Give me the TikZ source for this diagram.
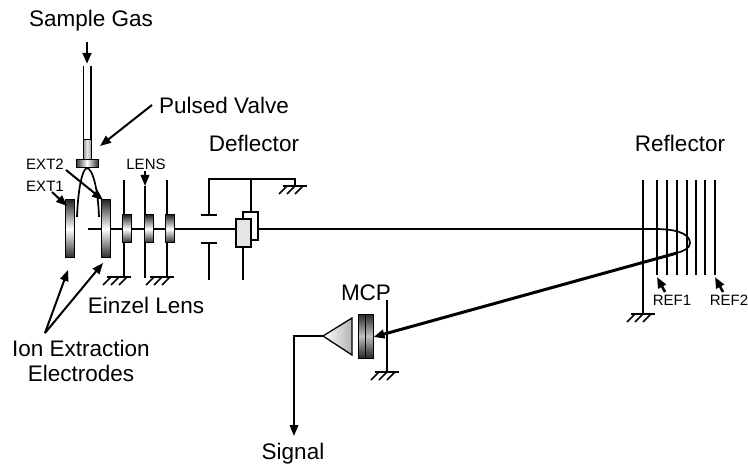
\documentclass[tikz,border=0pt]{standalone}
\usepackage{fontspec}
\setmainfont{Liberation Sans}
\usetikzlibrary{arrows.meta}
\tikzset{>={Triangle[length=11pt,width=8.5pt]}}
\tikzset{
  wire/.style={line width=1.7pt,black},
  thickbeam/.style={line width=3pt,black},
  pointer/.style={->,line width=2pt,black},
  bigtext/.style={font=\fontsize{22.5}{25}\selectfont,inner sep=0pt,align=center},
  smalltext/.style={font=\fontsize{15}{17}\selectfont,inner sep=0pt},
  plate/.style={draw,line width=1pt,rectangle,inner sep=0pt,
    top color=black!85,bottom color=black!85,middle color=white},
  sideplate/.style={draw,line width=1pt,rectangle,inner sep=0pt,
    left color=black!80,right color=black!80,middle color=white},
  gnd/.pic={
    \draw[wire] (-12,0) -- (12,0);
    \foreach \k in {0, 1, 2} {
      \draw[wire] (4-8*\k+4,0) -- (4-8*\k-4,8);
    }
  }
}

\begin{document}
\begin{tikzpicture}[x=1pt,y=-1pt]
      \useasboundingbox (0,0) rectangle (748,468);

      % gas inlet
      \coordinate (gasin) at (87,42);
      \coordinate (gasout) at (87,64);
      \coordinate (tubeLtop) at (83.5,66);
      \coordinate (tubeRtop) at (91,66);
      \coordinate (tubeLbot) at (83.5,140);
      \coordinate (tubeRbot) at (91,140);
      \draw[pointer,line width=2.6pt] (gasin) -- (gasout);
      \draw[wire] (tubeLtop) -- (tubeLbot);
      \draw[wire] (tubeRtop) -- (tubeRbot);

      % beam and wires stay behind the plates
      \coordinate (beamstart) at (88,229);
      \coordinate (beamturn) at (655,229);
      \coordinate (beamtip) at (690,243);
      \coordinate (beamback) at (677,253);
      \coordinate (detector) at (373.5,337);
      \draw[wire] (beamstart) -- (beamturn)
        .. controls (672,229) and (690,232) .. (beamtip)
        .. controls (690,248) and (684,251) .. (beamback);

      \foreach \t/\x in {1/124, 3/167} {
        \coordinate (lenstop\t) at (\x,180);
        \coordinate (lensbot\t) at (\x,277);
        \draw[wire] (lenstop\t) -- (lensbot\t);
        \pic at (lensbot\t) [xshift=-5pt] {gnd};
      }
      \coordinate (lenstop2) at (145,171);
      \coordinate (lensmid2) at (145,186);
      \coordinate (lensbot2) at (145,278);
      \draw[pointer] (lenstop2) -- (lensmid2);
      \draw[wire] (lensmid2) -- (lensbot2);

      % deflector wiring
      \coordinate (defa) at (209,215);
      \coordinate (defb) at (209,179);
      \coordinate (defc) at (295,179);
      \coordinate (defd) at (295,186);
      \coordinate (defe) at (251,179);
      \coordinate (deff) at (251,212);
      \coordinate (defg) at (209,243);
      \coordinate (defh) at (209,280);
      \coordinate (defi) at (243,247);
      \coordinate (defj) at (243,280);
      \draw[wire] (defa) -- (defb) -- (defc) -- (defd);
      \draw[wire] (defe) -- (deff);
      \draw[wire] (defg) -- (defh);
      \draw[wire] (defi) -- (defj);
      \coordinate (platea) at (201,215);
      \coordinate (plateb) at (217,215);
      \coordinate (platec) at (201,243);
      \coordinate (plated) at (217,243);
      \draw[wire] (platea) -- (plateb);
      \draw[wire] (platec) -- (plated);
      \pic at (defd) {gnd};
      \node[draw,line width=1.5pt,fill=white,inner sep=0,minimum width=15pt,minimum height=28pt](deflback) at (250.5,226) {};
      \node[draw,line width=1.5pt,fill=black!10,inner sep=0,minimum width=15pt,minimum height=28pt](deflfront) at (243.5,233) {};

      % gas valve
      \node[sideplate,minimum width=7.5pt,minimum height=20pt,left color=black!40,right color=black!40,middle color=black!8](valve) at (87.25,150) {};
      \node[sideplate,minimum width=22pt,minimum height=8pt](flange) at (87,164) {};
      \coordinate (sprayL) at (77,217);
      \coordinate (sprayR) at (99,217);
      \draw[wire] (sprayL) .. controls (78,190) and (82,169) .. (87,168)
        .. controls (93,169) and (98,190) .. (sprayR);

      % extraction electrodes and einzel lens
      \node[plate,minimum width=9pt,minimum height=58pt](ext1) at (70,229) {};
      \node[plate,minimum width=9pt,minimum height=58pt](ext2) at (106,229) {};
      \foreach \t/\x in {1/127, 2/149, 3/170} {
        \node[plate,minimum width=8.5pt,minimum height=28pt](lens\t) at (\x,229) {};
      }

      % reflector stack
      \foreach \t/\x in {1/657, 2/667, 3/677, 4/687, 5/696, 6/705, 7/715} {
        \coordinate (reftop\t) at (\x,180);
        \coordinate (refbot\t) at (\x,275);
        \draw[wire,line width=2.2pt] (reftop\t) -- (refbot\t);
      }
      \coordinate (refgndtop) at (643,180);
      \coordinate (refgnd) at (643,314);
      \draw[wire] (refgndtop) -- (refgnd);
      \pic at (refgnd) {gnd};

      % detector
      \coordinate (mcptop) at (387,300);
      \coordinate (mcpgnd) at (387,372);
      \draw[wire] (mcptop) -- (mcpgnd);
      \pic at (mcpgnd) {gnd};
      \draw[->,thickbeam] (beamback) -- (detector);
      \node[plate,middle color=black!25,minimum width=7.5pt,minimum height=44pt](mcpa) at (361.75,336) {};
      \node[plate,middle color=black!25,minimum width=7.5pt,minimum height=44pt](mcpb) at (369.25,336) {};
      \coordinate (amptip) at (323,336);
      \coordinate (amptop) at (352,318);
      \coordinate (ampbot) at (352,355);
      \draw[line width=1.3pt,left color=white,right color=black!30] (amptip) -- (amptop) -- (ampbot) -- cycle;
      \coordinate (sigcorner) at (294,336);
      \coordinate (sigend) at (294,436);
      \draw[pointer] (amptip) -- (sigcorner) -- (sigend);

      % labels
      \node[bigtext](gaslabel) at (91,21) {Sample Gas};
      \node[bigtext,anchor=west](valvelabel) at (159,105) {Pulsed Valve};
      \node[bigtext](defllabel) at (254,143) {Deflector};
      \node[bigtext](refllabel) at (680,143) {Reflector};
      \node[bigtext](einzellabel) at (146,305) {Einzel Lens};
      \node[bigtext](ionlabel) at (81,361) {Ion Extraction\\Electrodes};
      \node[bigtext](mcplabel) at (366,293) {MCP};
      \node[bigtext](siglabel) at (293,454) {Signal};
      \node[smalltext](ext1label) at (45,186) {EXT1};
      \node[smalltext](ext2label) at (45,164) {EXT2};
      \node[smalltext](lenslabel) at (146,164) {LENS};
      \node[smalltext](ref1label) at (672,300) {REF1};
      \node[smalltext](ref2label) at (729,300) {REF2};

      % pointers
      \coordinate (valvefrom) at (152,105);
      \coordinate (valveto) at (100,146);
      \draw[pointer] (valvefrom) -- (valveto);
      \coordinate (ext2from) at (66,170);
      \coordinate (ext2to) at (103,200);
      \draw[pointer] (ext2from) -- (ext2to);
      \coordinate (ext1from) at (52,192);
      \coordinate (ext1to) at (67,206);
      \draw[pointer] (ext1from) -- (ext1to);
      \coordinate (ionfrom) at (45,333);
      \coordinate (ionto1) at (68,270);
      \coordinate (ionto2) at (103,263);
      \draw[pointer] (ionfrom) -- (ionto1);
      \draw[pointer] (ionfrom) -- (ionto2);
      \foreach \t/\x in {1/657, 2/715} {
        \coordinate (reffrom\t) at (\x+8,292);
        \coordinate (refto\t) at (\x,277);
        \draw[pointer,line width=2.6pt] (reffrom\t) -- (refto\t);
      }
    \end{tikzpicture}
\end{document}
